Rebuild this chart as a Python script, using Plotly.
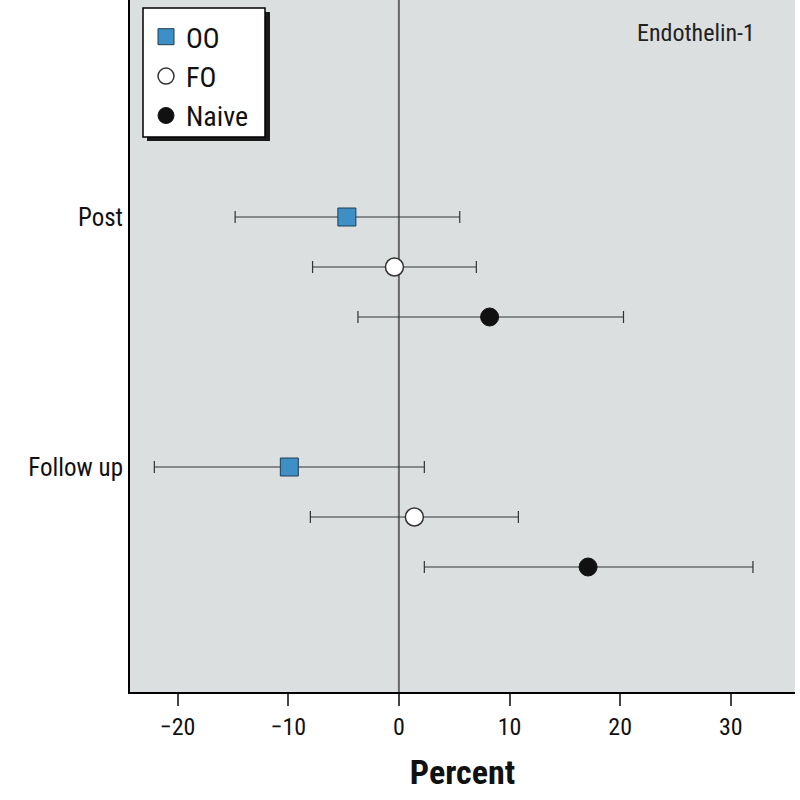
import plotly.graph_objects as go

groups = ["OO", "FO", "Naive"]
periods = ["Post", "Follow up"]
post_est = [-4.7, -0.4, 8.2]
post_low = [-14.8, -7.8, -3.7]
post_high = [5.5, 7.0, 20.3]
fu_est = [-9.9, 1.4, 17.1]
fu_low = [-22.1, -8.0, 2.3]
fu_high = [2.3, 10.8, 32.0]
post_pos = [1, 2, 3]
fu_pos = [6, 7, 8]
x_ticks = [-20, -10, 0, 10, 20, 30]

FONT = "Liberation Sans Narrow, Roboto Condensed, Arial Narrow, sans-serif"
styles = {
    "OO": dict(symbol="square", color="#3d8fc6", line=dict(color="#1f3f55", width=1), size=18),
    "FO": dict(symbol="circle", color="white", line=dict(color="#333333", width=1.5), size=18),
    "Naive": dict(symbol="circle", color="#111111", line=dict(color="#111111", width=1), size=18),
}

PW, PH = 665, 692

def px(xp):
    return (xp - 130) / PW

def py(yp):
    return 1 - yp / PH

fig = go.Figure()
for i, g in enumerate(groups):
    xs = [post_est[i], fu_est[i]]
    ys = [post_pos[i], fu_pos[i]]
    plus = [post_high[i] - post_est[i], fu_high[i] - fu_est[i]]
    minus = [post_est[i] - post_low[i], fu_est[i] - fu_low[i]]
    fig.add_trace(go.Scatter(
        x=xs, y=ys, mode="markers", name=g,
        marker=styles[g],
        error_x=dict(type="data", symmetric=False, array=plus, arrayminus=minus,
                     color="#333333", thickness=1.2, width=6),
    ))

fig.add_vline(x=0, line=dict(color="#666666", width=2), layer="below")

# legend shadow and box
fig.add_shape(type="rect", xref="paper", yref="paper",
              x0=px(147), x1=px(270), y0=py(141), y1=py(12),
              fillcolor="#1a1a1a", line=dict(width=0), layer="above")
fig.add_shape(type="rect", xref="paper", yref="paper",
              x0=px(143), x1=px(265), y0=py(137), y1=py(8),
              fillcolor="white", line=dict(color="black", width=1.5), layer="above")

fig.add_annotation(x=px(757), y=py(17), xref="paper", yref="paper", text="Endothelin-1",
                   showarrow=False, xanchor="right", yanchor="top",
                   font=dict(family=FONT, size=24, color="#222222"))

fig.update_layout(
    width=800, height=800,
    margin=dict(l=130, r=5, t=0, b=108, autoexpand=False),
    paper_bgcolor="white", plot_bgcolor="#dcdfe0",
    font=dict(family=FONT, color="#111111"),
    showlegend=True,
    legend=dict(x=px(146), y=py(12), xanchor="left", yanchor="top",
                bgcolor="rgba(0,0,0,0)", borderwidth=0,
                font=dict(family=FONT, size=28, color="#111111"),
                itemsizing="trace", tracegroupgap=0),
    xaxis=dict(range=[-24.3, 35.8], tickvals=x_ticks,
               ticktext=["\u221220", "\u221210", "0", "10", "20", "30"],
               showgrid=False, zeroline=False, showline=True, linecolor="black", linewidth=2,
               ticks="outside", ticklen=12, tickcolor="#444444", tickwidth=1.5,
               tickfont=dict(family=FONT, size=24, color="#111111"),
               title=dict(text="<b>Percent</b>", font=dict(family=FONT, size=34, color="#111111"), standoff=20)),
    yaxis=dict(range=[10.5, -3.34], tickvals=[post_pos[0], fu_pos[0]], ticktext=periods,
               showgrid=False, zeroline=False, showline=True, linecolor="black", linewidth=2,
               ticks="", ticklen=0,
               tickfont=dict(family=FONT, size=25, color="#111111")),
)

fig.write_html("out.html", config={"displayModeBar": False},
               post_script="document.body.style.margin='0px';")
